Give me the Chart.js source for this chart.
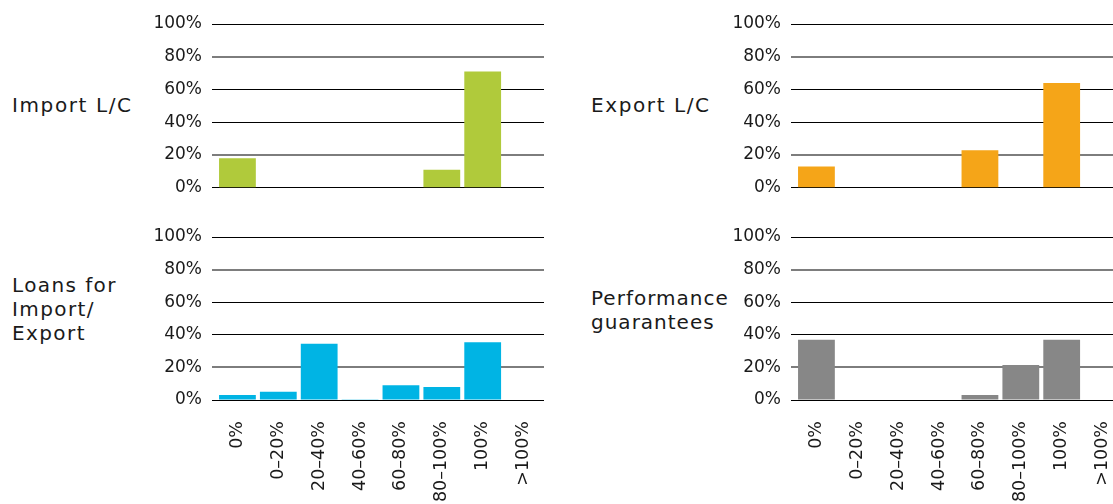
<!DOCTYPE html>
<html>
<head>
<meta charset="utf-8">
<script src="https://cdn.jsdelivr.net/npm/chart.js@4/dist/chart.umd.min.js"></script>
<style>
  html,body{margin:0;padding:0;background:#fff;}
  body{width:1113px;height:504px;overflow:hidden;position:relative;font-family:"DejaVu Sans",sans-serif;}
  .lbl{position:absolute;font-size:20px;line-height:24px;letter-spacing:1px;color:#1a1a1a;white-space:nowrap;}
  .box{position:absolute;}
</style>
</head>
<body>
<div class="lbl" style="left:12px;top:93px;letter-spacing:1.6px">Import L/C</div>
<div class="lbl" style="left:591px;top:93px;letter-spacing:1.6px">Export L/C</div>
<div class="lbl" style="left:12px;top:273px;letter-spacing:1.4px">Loans for<br>Import/<br>Export</div>
<div class="lbl" style="left:591px;top:286px">Performance<br>guarantees</div>

<div class="box" style="left:137px;top:0;width:407px;height:208px"><canvas id="cImport"></canvas></div>
<div class="box" style="left:716px;top:0;width:407px;height:208px"><canvas id="cExport"></canvas></div>
<div class="box" style="left:137px;top:200px;width:407px;height:304px"><canvas id="cLoans"></canvas></div>
<div class="box" style="left:716px;top:200px;width:407px;height:304px"><canvas id="cPerf"></canvas></div>

<script>
// categories (coverage ratio buckets)
const categories = ['0%','0–20%','20–40%','40–60%','60–80%','80–100%','100%','>100%'];

// shares of respondents, in %
const importLC       = [18, 0, 0,    0,   0,  11,   71,   0];
const exportLC       = [13, 0, 0,    0,   23, 0,    64,   0];
const loansImpExp    = [3,  5, 34.5, 0.5, 9,  8,    35.5, 0];
const perfGuarantees = [37, 0, 0,    0,   3,  21.5, 37,   0];

const yMin = 0, yMax = 100, yStep = 20;

const textColor = '#1a1a1a';
const tickFont = {family:'DejaVu Sans', size:17};

function makeChart(id, values, color, showX){
  const ctx = document.getElementById(id).getContext('2d');
  return new Chart(ctx,{
    type:'bar',
    data:{labels:categories,datasets:[{data:values,backgroundColor:color,borderWidth:0,
      categoryPercentage:1,barPercentage:0.9}]},
    options:{
      responsive:true,maintainAspectRatio:false,animation:false,
      layout:{padding:{top:showX?37:24,bottom:showX?0:13,left:0,right:0}},
      plugins:{legend:{display:false},tooltip:{enabled:false}},
      scales:{
        x:{
          grid:{display:false,drawTicks:false},
          border:{display:false},
          ticks:{display:showX,color:textColor,font:{family:'DejaVu Sans',size:17.5},
            minRotation:90,maxRotation:90,padding:21,autoSkip:false},
          afterFit:s=>{
            s.paddingLeft = 0; s.paddingRight = 0;
            s.height = showX ? 104 : 0;
          }
        },
        y:{
          min:yMin,max:yMax,
          grid:{
            drawTicks:true,tickLength:5,
            color:c=>(c.tick && (c.tick.value===20 || c.tick.value===80)) ? '#7d7d7d' : '#000',
            lineWidth:c=>(c.tick && (c.tick.value===20 || c.tick.value===80)) ? 2 : 1
          },
          border:{display:false},
          ticks:{stepSize:yStep,padding:10,color:textColor,font:tickFont,autoSkip:false,callback:v=>v+'%'},
          afterFit:s=>{ s.width = 80; }
        }
      }
    }
  });
}

makeChart('cImport', importLC, '#b0ca3b', false);
makeChart('cExport', exportLC, '#f5a518', false);
makeChart('cLoans', loansImpExp, '#00b4e4', true);
makeChart('cPerf', perfGuarantees, '#878787', true);
</script>
</body>
</html>
